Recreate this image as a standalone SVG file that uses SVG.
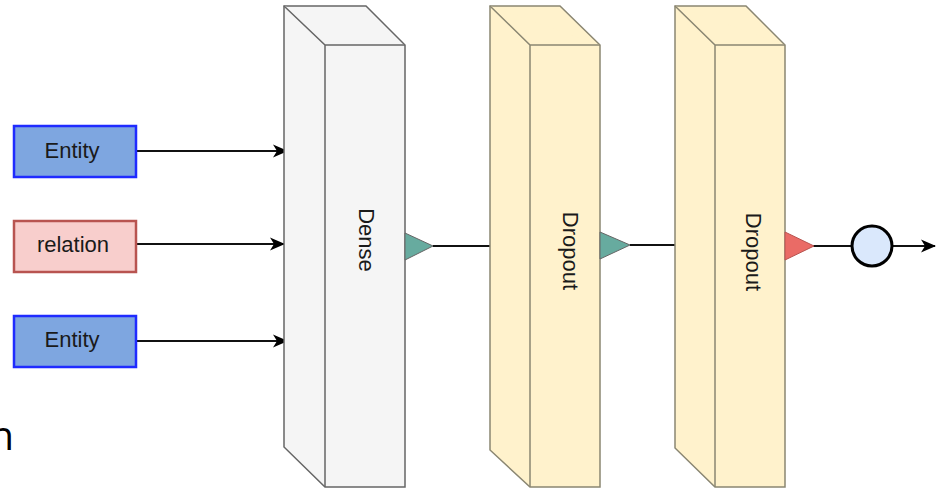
<svg xmlns="http://www.w3.org/2000/svg" width="943" height="488" viewBox="0 0 943 488">
  <defs>
    <marker id="arrow" viewBox="0 0 15 14" refX="14" refY="7" markerWidth="15" markerHeight="14" markerUnits="userSpaceOnUse" orient="auto">
      <path d="M0,0.5 L15,7 L0,13.5 L4,7 Z" fill="#000"/>
    </marker>
  </defs>
  <style>
    .lbl { font-family: "Liberation Sans", Arial, sans-serif; font-size: 22px; fill: #1a1a1a; }
    .entity { fill: #7EA6E0; stroke: #1f2bff; stroke-width: 2.5; }
    .relation { fill: #F8CECC; stroke: #B85450; stroke-width: 2.5; }
    .dense { fill: #F5F5F5; stroke: #666; stroke-width: 1.5; }
    .drop { fill: #FFF2CC; stroke: #8a8672; stroke-width: 1.5; }
    .edge { stroke: #111; stroke-width: 1.8; fill: none; }
    .teal { fill: #67AB9F; stroke: #666; stroke-width: 1; }
    .red { fill: #EA6B66; stroke: #b85450; stroke-width: 1; }
  </style>

  <!-- caption running off the left edge -->
  <text x="14" y="450" text-anchor="end" font-family="'Open Sans', sans-serif" font-size="40" fill="#000">n</text>

  <g id="connectors">
    <line class="edge" x1="137" y1="151" x2="287" y2="151" marker-end="url(#arrow)"/>
    <line class="edge" x1="137" y1="244" x2="284" y2="244" marker-end="url(#arrow)"/>
    <line class="edge" x1="137" y1="341" x2="287" y2="341" marker-end="url(#arrow)"/>
    <line class="edge" x1="433" y1="246" x2="490" y2="246"/>
    <line class="edge" x1="630" y1="245" x2="675" y2="245" stroke="#555"/>
    <line class="edge" x1="813" y1="246" x2="852" y2="246" stroke="#555"/>
    <line class="edge" x1="893" y1="246" x2="935" y2="246" marker-end="url(#arrow)"/>
  </g>

  <g id="entity1">
    <rect class="entity" x="14" y="126" width="122" height="51"/>
    <text class="lbl" x="72" y="158" text-anchor="middle">Entity</text>
  </g>
  <g id="relation">
    <rect class="relation" x="14" y="221" width="122" height="51"/>
    <text class="lbl" x="73" y="252" text-anchor="middle">relation</text>
  </g>
  <g id="entity2">
    <rect class="entity" x="14" y="316" width="122" height="51"/>
    <text class="lbl" x="72" y="347" text-anchor="middle">Entity</text>
  </g>

  <g id="dense">
    <path class="dense" d="M284,6 L366,6 L405,45 L405,487 L325,487 L284,447 Z"/>
    <path class="dense" d="M284,6 L325,45 L405,45 M325,45 L325,487" fill="none"/>
    <text class="lbl" transform="translate(359,240) rotate(90)" text-anchor="middle">Dense</text>
    <polygon class="teal" points="405,233 433,246 405,260"/>
  </g>

  <g id="dropout1">
    <path class="drop" d="M490,6 L560,6 L600,45 L600,487 L530,487 L490,450 Z"/>
    <path class="drop" d="M490,6 L530,45 L600,45 M530,45 L530,487" fill="none"/>
    <text class="lbl" transform="translate(563,251) rotate(90)" text-anchor="middle">Dropout</text>
    <polygon class="teal" points="600,232 630,245 600,259"/>
  </g>

  <g id="dropout2">
    <path class="drop" d="M675,6 L746,6 L785,45 L785,487 L715,487 L675,448 Z"/>
    <path class="drop" d="M675,6 L715,45 L785,45 M715,45 L715,487" fill="none"/>
    <text class="lbl" transform="translate(746,252) rotate(90)" text-anchor="middle">Dropout</text>
    <polygon class="red" points="785,232 814,246 785,260"/>
  </g>

  <g id="output">
    <circle cx="872" cy="246" r="20" fill="#DAE8FC" stroke="#000" stroke-width="3"/>
  </g>
</svg>
